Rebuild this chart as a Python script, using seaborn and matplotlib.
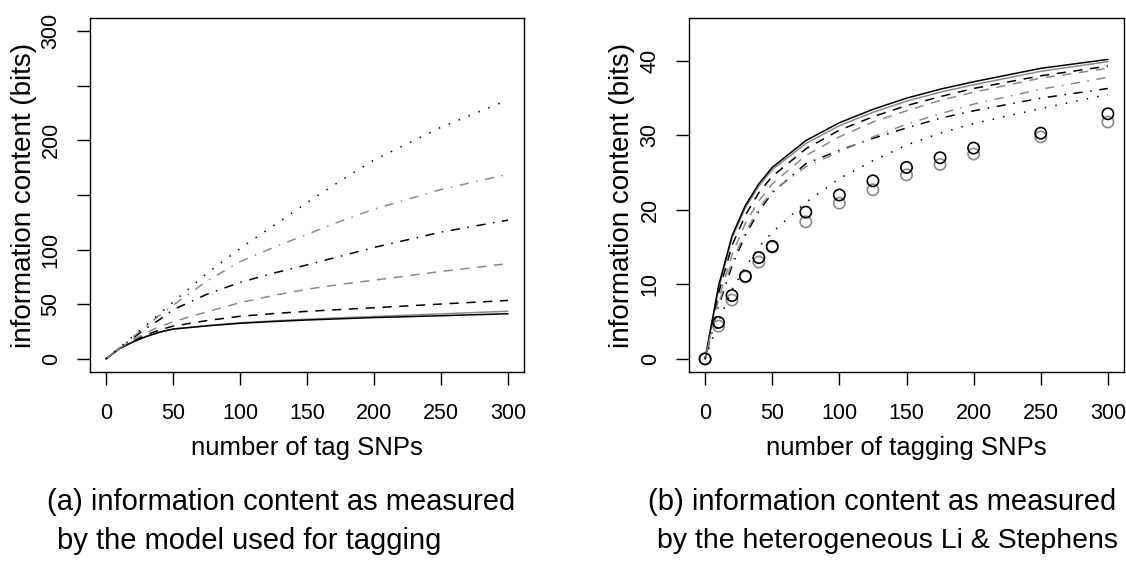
import numpy as np
import pandas as pd
import seaborn as sns
import matplotlib
matplotlib.use("Agg")
import matplotlib.pyplot as plt

# number of SNPs evaluated
n_snps = [0, 10, 20, 30, 40, 50, 75, 100, 125, 150, 175, 200, 250, 300]

# (a) information content as measured by the tagging model
a_solid_black = [0, 9.5, 15.5, 20.5, 24.5, 27.3, 30.2, 32.6, 34.2, 35.6, 36.7, 37.8, 39.5, 41.3]
a_solid_gray = [0, 9.5, 15.5, 20.5, 24.5, 27.3, 30.4, 33.0, 34.8, 36.3, 37.6, 38.8, 41.2, 43.6]
a_dashed_black = [0, 9.6, 16.2, 22.0, 26.5, 30.0, 35.0, 39.0, 41.5, 43.5, 45.2, 46.8, 50.2, 53.5]
a_dashed_gray = [0, 9.8, 17.5, 24.0, 29.5, 34.0, 43.0, 51.5, 58.0, 63.8, 68.2, 72.0, 80.0, 87.2]
a_dotdash_black = [0, 9.8, 19.0, 28.0, 36.0, 45.0, 59.0, 70.0, 78.5, 86.0, 94.0, 102.0, 116.0, 127.0]
a_dotdash_gray = [0, 10.0, 20.0, 30.0, 40.0, 49.0, 71.0, 89.0, 102.0, 114.0, 126.0, 137.0, 155.0, 169.0]
a_dotted_black = [0, 10.2, 20.5, 31.0, 41.5, 52.0, 78.0, 101.0, 122.0, 143.0, 163.0, 182.0, 212.0, 237.0]

# (b) information content under the heterogeneous Li & Stephens model
b_solid_black = [0, 9.8, 16.5, 20.6, 23.5, 25.7, 29.3, 31.7, 33.5, 35.0, 36.2, 37.2, 39.0, 40.2]
b_solid_gray = [0, 9.3, 16.2, 20.3, 23.2, 25.4, 28.9, 31.3, 33.1, 34.6, 35.8, 36.8, 38.6, 39.9]
b_dashed_black = [0, 8.8, 15.2, 19.3, 22.3, 24.5, 28.2, 30.7, 32.5, 34.0, 35.2, 36.3, 38.0, 39.3]
b_dashed_gray = [0, 8.0, 14.0, 18.2, 21.2, 23.5, 27.3, 29.8, 31.8, 33.3, 34.7, 35.8, 37.7, 39.0]
b_dotdash_gray = [0, 7.3, 13.0, 17.0, 20.2, 22.5, 25.8, 27.8, 29.8, 31.5, 32.9, 34.2, 36.2, 37.8]
b_dotdash_black = [0, 7.0, 12.5, 16.6, 19.8, 22.3, 26.2, 28.0, 29.6, 31.0, 32.3, 33.3, 35.0, 36.3]
b_dotted_black = [0, 5.0, 9.3, 12.3, 15.0, 17.0, 21.0, 24.2, 26.6, 28.7, 30.3, 31.6, 33.6, 35.5]
b_circles_black = [0, 4.9, 8.5, 11.1, 13.6, 15.1, 19.7, 22.0, 23.9, 25.7, 27.0, 28.3, 30.3, 32.9]
b_circles_gray = [0, 4.4, 7.9, 11.0, 13.0, 15.0, 18.4, 20.9, 22.7, 24.7, 26.1, 27.5, 29.8, 31.8]

x_ticks = [0, 50, 100, 150, 200, 250, 300]
a_yticks = [0, 50, 100, 150, 200, 250, 300]
a_ylabels = ["0", "50", "100", "", "200", "", "300"]   # R drops the crowded ones
b_yticks = [0, 10, 20, 30, 40]
b_ylabels = ["0", "10", "20", "30", "40"]

GRAY = "#8a8a8a"
LW = 1.1
styles = {
    "solid": "-",
    "dashed": (0, (6, 5)),
    "dotdash": (0, (1, 5, 6, 5)),
    "dotted": (0, (1, 6)),
}

sns.set_style("ticks")
plt.rcParams["font.family"] = ["Liberation Sans", "DejaVu Sans"]
plt.rcParams.update({
    "text.color": "black",
    "axes.labelcolor": "black",
    "xtick.color": "black",
    "ytick.color": "black",
    "axes.edgecolor": "black",
})

W, H = 1126, 564
fig = plt.figure(figsize=(W / 100, H / 100), dpi=100)
ax_a = fig.add_axes([90 / W, 1 - 372 / H, 434 / W, 354 / H])
ax_b = fig.add_axes([689 / W, 1 - 372 / H, 435 / W, 354 / H])

a_series = [
    (a_solid_gray, GRAY, "solid"),
    (a_solid_black, "black", "solid"),
    (a_dashed_black, "black", "dashed"),
    (a_dashed_gray, GRAY, "dashed"),
    (a_dotdash_black, "black", "dotdash"),
    (a_dotdash_gray, GRAY, "dotdash"),
    (a_dotted_black, "black", "dotted"),
]
for values, color, ls in a_series:
    sns.lineplot(x=n_snps, y=values, ax=ax_a, color=color, linestyle=styles[ls], lw=LW)

b_series = [
    (b_solid_gray, GRAY, "solid"),
    (b_solid_black, "black", "solid"),
    (b_dashed_black, "black", "dashed"),
    (b_dashed_gray, GRAY, "dashed"),
    (b_dotdash_black, "black", "dotdash"),
    (b_dotdash_gray, GRAY, "dotdash"),
    (b_dotted_black, "black", "dotted"),
]
for values, color, ls in b_series:
    sns.lineplot(x=n_snps, y=values, ax=ax_b, color=color, linestyle=styles[ls], lw=LW)

sns.scatterplot(x=n_snps, y=b_circles_gray, ax=ax_b, s=66, facecolor="none",
                edgecolor=GRAY, linewidth=1.2, zorder=3)
sns.scatterplot(x=n_snps, y=b_circles_black, ax=ax_b, s=66, facecolor="none",
                edgecolor="black", linewidth=1.2, zorder=4)

for ax, ymax, yticks, ylabels, xlab, ylab_x in [
    (ax_a, 300, a_yticks, a_ylabels, "number of tag SNPs", -0.152),
    (ax_b, 44, b_yticks, b_ylabels, "number of tagging SNPs", -0.155),
]:
    ax.set_xlim(-12, 312)
    ax.set_ylim(-0.04 * ymax, 1.04 * ymax)
    ax.set_xticks(x_ticks)
    ax.set_xticklabels([str(t) for t in x_ticks])
    ax.set_yticks(yticks)
    ax.set_yticklabels(ylabels, rotation=90, va="center")
    ax.tick_params(direction="out", length=9.4, width=1, pad=11, labelsize=15.5)
    ax.tick_params(axis="x", pad=13)
    for sp in ax.spines.values():
        sp.set_linewidth(1.0)
    ax.set_xlabel(xlab, fontsize=18.5, va="center")
    ax.xaxis.set_label_coords(0.5, -0.215)
    ax.set_ylabel("information content (bits)", fontsize=20, va="center")
    ax.yaxis.set_label_coords(ylab_x, 0.5)

cap = dict(fontsize=21, ha="left", va="center")
fig.text(47 / W, 1 - 502 / H, "(a) information content as measured", **cap)
fig.text(57 / W, 1 - 541 / H, "by the model used for tagging", **cap)
fig.text(648 / W, 1 - 502 / H, "(b) information content as measured", **cap)
fig.text(657 / W, 1 - 541 / H, "by the heterogeneous Li & Stephens", fontsize=20.5,
         ha="left", va="center")

fig.savefig("out.png", dpi=100)
